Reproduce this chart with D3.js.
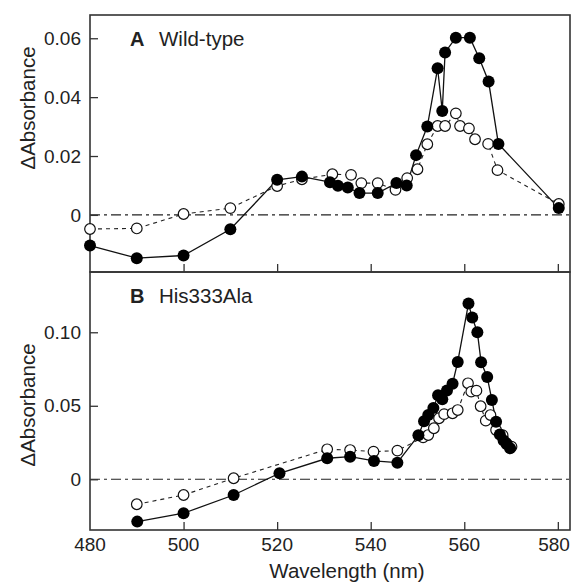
<!DOCTYPE html>
<html>
<head>
<meta charset="utf-8">
<script src="https://cdn.jsdelivr.net/npm/d3@7"></script>
<style>
  body { margin: 0; background: #fff; }
  svg text { font-family: "Liberation Sans", Arial, sans-serif; fill: #222; }
</style>
</head>
<body>
<div class="chart"></div>
<script>
// panel A - wild-type
const wtFilledX = [480, 490, 500, 510, 520, 525.3, 531.3, 533, 535.1, 537.6, 541.5, 545.5, 547.7, 549.7, 552.1, 554.3, 555.3, 555.9, 558.2, 561.2, 563.2, 565.2, 567.3, 580.2];
const wtFilledY = [-0.0104, -0.0147, -0.0138, -0.0049, 0.0119, 0.013, 0.0111, 0.0099, 0.0093, 0.0074, 0.0074, 0.0108, 0.0100, 0.0203, 0.0300, 0.0498, 0.0353, 0.0552, 0.0602, 0.0602, 0.0532, 0.0453, 0.0241, 0.0023];
const wtOpenX = [480, 490, 500, 510, 520, 525.3, 531.8, 535.8, 538, 541.5, 545.3, 547.8, 550, 552.1, 554.3, 555.9, 558.2, 559.1, 561, 562.3, 565.1, 567.1, 580.2];
const wtOpenY = [-0.0048, -0.0046, 0.0003, 0.0023, 0.0098, 0.0121, 0.0138, 0.0136, 0.0108, 0.0108, 0.0085, 0.0125, 0.0155, 0.0240, 0.0302, 0.0302, 0.0345, 0.0302, 0.0294, 0.0257, 0.0241, 0.0152, 0.0037];

// panel B - His333Ala
const mutFilledX = [490.1, 500, 510.7, 520.5, 530.7, 535.6, 540.7, 545.7, 550.2, 551.4, 552.3, 553.4, 554.4, 555.3, 556.3, 557.5, 558.6, 560.9, 561.7, 562.8, 563.6, 564.9, 565.9, 566.8, 567.6, 568.4, 569.1, 569.8];
const mutFilledY = [-0.0288, -0.0231, -0.0107, 0.0041, 0.0143, 0.0154, 0.0125, 0.0113, 0.0299, 0.0395, 0.0437, 0.0485, 0.0571, 0.0545, 0.0604, 0.0650, 0.0798, 0.1195, 0.1100, 0.1000, 0.0796, 0.0696, 0.0540, 0.0392, 0.0304, 0.0264, 0.0238, 0.0211];
const mutOpenX = [490, 500, 510.7, 530.7, 535.6, 540.6, 545.7, 551.2, 552.3, 553.5, 554.6, 555.7, 557.5, 558.6, 560.8, 561.5, 562.6, 563.5, 564.6, 565.6, 566.8, 568.2, 569, 570.1];
const mutOpenY = [-0.017, -0.0107, 0.0007, 0.0204, 0.0199, 0.0188, 0.0195, 0.0285, 0.0301, 0.0347, 0.0415, 0.0443, 0.0449, 0.0471, 0.0653, 0.0596, 0.0603, 0.0497, 0.0399, 0.0437, 0.0335, 0.0300, 0.0245, 0.0222];

const xTicks = [480, 500, 520, 540, 560, 580];
const yTicksA = [0, 0.02, 0.04, 0.06];
const yTicksB = [0, 0.05, 0.10];

const width = 572, height = 584;
const svg = d3.select('.chart').append('svg')
    .attr('width', width)
    .attr('height', height);

const x = d3.scaleLinear().domain([480, 582.6]).range([90, 570]);

const panels = [
    { label: 'A', name: 'Wild-type', top: 15, bottom: 272, domain: [-0.0194, 0.0679], ticks: yTicksA, fmt: d => d === 0 ? '0' : d3.format('.2f')(d),
      filled: wtFilledX.map((d, i) => [d, wtFilledY[i]]), open: wtOpenX.map((d, i) => [d, wtOpenY[i]]), ylab: 108 },
    { label: 'B', name: 'His333Ala', top: 272, bottom: 530, domain: [-0.0345, 0.141], ticks: yTicksB, fmt: d => d === 0 ? '0' : d3.format('.2f')(d),
      filled: mutFilledX.map((d, i) => [d, mutFilledY[i]]), open: mutOpenX.map((d, i) => [d, mutOpenY[i]]), ylab: 405 }
];

panels.forEach(p => {
    const y = d3.scaleLinear().domain(p.domain).range([p.bottom, p.top]);
    const g = svg.append('g');

    // zero reference line
    g.append('line')
        .attr('x1', 90).attr('x2', 570)
        .attr('y1', y(0)).attr('y2', y(0))
        .attr('stroke', '#222').attr('stroke-width', 1.1)
        .attr('stroke-dasharray', '10,4,3,4');

    // axes, ticks pointing inward
    g.append('g')
        .attr('transform', 'translate(90,0)')
        .call(d3.axisRight(y).tickValues(p.ticks).tickSize(8).tickFormat(''))
        .call(a => a.select('.domain').remove())
        .call(a => a.selectAll('line').attr('stroke', '#333').attr('stroke-width', 1.3));

    g.selectAll('.ylab')
        .data(p.ticks)
        .join('text')
        .attr('x', 81)
        .attr('y', d => y(d))
        .attr('dy', '0.35em')
        .attr('text-anchor', 'end')
        .attr('font-size', 19)
        .text(p.fmt);

    g.append('g')
        .attr('transform', `translate(0,${p.bottom})`)
        .call(d3.axisTop(x).tickValues(xTicks.slice(1)).tickSize(8).tickFormat(''))
        .call(a => a.select('.domain').remove())
        .call(a => a.selectAll('line').attr('stroke', '#333').attr('stroke-width', 1.3));

    g.append('rect')
        .attr('x', 90).attr('y', p.top)
        .attr('width', 480).attr('height', p.bottom - p.top)
        .attr('fill', 'none').attr('stroke', '#333').attr('stroke-width', 1.6);

    const line = d3.line().x(d => x(d[0])).y(d => y(d[1]));

    g.append('path').datum(p.open)
        .attr('d', line)
        .attr('fill', 'none').attr('stroke', '#222').attr('stroke-width', 1.1)
        .attr('stroke-dasharray', '4,4');

    g.append('path').datum(p.filled)
        .attr('d', line)
        .attr('fill', 'none').attr('stroke', '#111').attr('stroke-width', 1.3);

    g.selectAll('.open')
        .data(p.open)
        .join('circle')
        .attr('cx', d => x(d[0])).attr('cy', d => y(d[1]))
        .attr('r', 5.3)
        .attr('fill', '#fff').attr('stroke', '#111').attr('stroke-width', 1.2);

    g.selectAll('.filled')
        .data(p.filled)
        .join('circle')
        .attr('cx', d => x(d[0])).attr('cy', d => y(d[1]))
        .attr('r', 6)
        .attr('fill', '#000');

    g.append('text')
        .attr('x', 130).attr('y', p.top + 31)
        .attr('font-size', 20).attr('font-weight', 'bold')
        .text(p.label);
    g.append('text')
        .attr('x', 159).attr('y', p.top + 31)
        .attr('font-size', 20.5)
        .text(p.name);

    g.append('text')
        .attr('transform', `translate(35,${p.ylab}) rotate(-90)`)
        .attr('text-anchor', 'middle')
        .attr('font-size', 20.5)
        .text('ΔAbsorbance');
});

// x tick labels under panel B (last one kept inside the page)
svg.selectAll('.xlab')
    .data(xTicks)
    .join('text')
    .attr('x', d => Math.min(x(d), width - 18))
    .attr('y', 551)
    .attr('text-anchor', 'middle')
    .attr('font-size', 19)
    .text(d => d);

svg.append('text')
    .attr('x', 347).attr('y', 578)
    .attr('text-anchor', 'middle')
    .attr('font-size', 20.5)
    .text('Wavelength (nm)');
</script>
</body>
</html>
